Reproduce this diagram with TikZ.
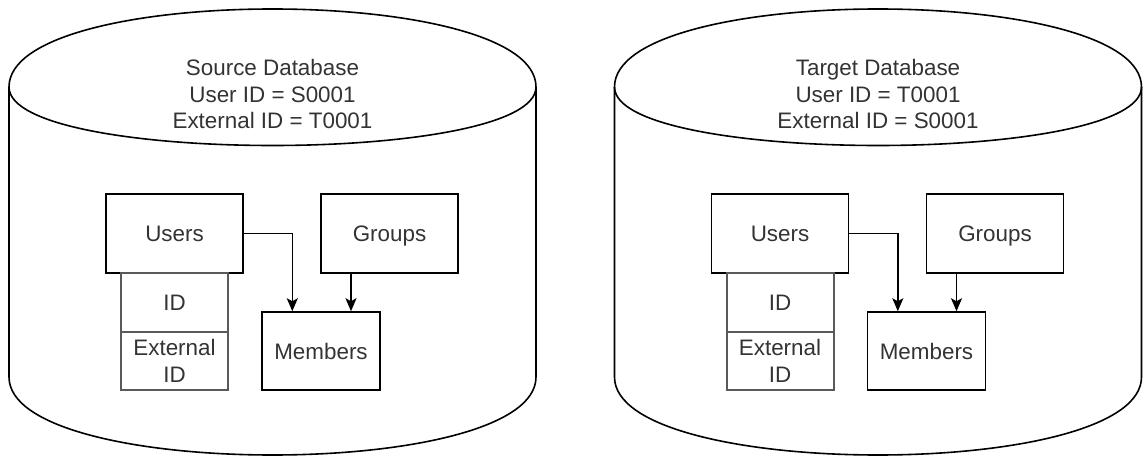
\documentclass[tikz,border=0pt]{standalone}
\usepackage{fontspec}
\setmainfont{Liberation Sans}
\usetikzlibrary{arrows.meta}
\definecolor{txt}{HTML}{333333}
\definecolor{idgray}{HTML}{5A5A5A}
\tikzset{
  dbshape/.style={draw=black, line width=1.6pt},
  box/.style={draw=black, line width=1.5pt, inner sep=0pt, text=txt,
    font=\fontsize{22.4}{26.9}\selectfont, align=center},
  one/.style={text depth=0pt},
  idbox/.style={box, draw=idgray, line width=2pt},
  title/.style={text=txt, font=\fontsize{22.4}{26.9}\selectfont, align=center, inner sep=0pt},
  arr/.style={draw=black, line width=1.5pt, -{Stealth[length=13pt,width=11pt,inset=3pt]}}
}
\begin{document}
\begin{tikzpicture}[x=1pt,y=-1pt]
\useasboundingbox (0,0) rectangle (1143,457);
% ---------- left database ----------
\draw[dbshape] (9,87) .. controls (9,-17) and (536,-17) .. (536,87)
  -- (536,377) .. controls (536,481) and (9,481) .. (9,377) -- cycle;
\draw[dbshape] (9,87) .. controls (9,165) and (536,165) .. (536,87);
\node[title] (titleL) at (272.5,94) {Source Database\\User ID = S0001\\External ID = T0001};
\node[box, one, minimum width=137pt, minimum height=79pt] (usersL) at (174.5,233.5) {Users};
\node[idbox, one, minimum width=107pt, minimum height=59pt] (idL) at (174.5,302.5) {ID};
\node[idbox, minimum width=107pt, minimum height=58pt] (extL) at (174.5,361) {External\\ID};
\node[box, one, minimum width=137pt, minimum height=79pt] (groupsL) at (389.5,233.5) {Groups};
\node[box, one, minimum width=118pt, minimum height=78pt] (membersL) at (321,351) {Members};
\draw[arr] (usersL.east) -| ([xshift=-28.7pt]membersL.north);
\draw[arr] ([xshift=-38.5pt]groupsL.south) -- ([xshift=30pt]membersL.north);
% ---------- right database ----------
\draw[dbshape] (614.5,87) .. controls (614.5,-17) and (1141.5,-17) .. (1141.5,87)
  -- (1141.5,377) .. controls (1141.5,481) and (614.5,481) .. (614.5,377) -- cycle;
\draw[dbshape] (614.5,87) .. controls (614.5,165) and (1141.5,165) .. (1141.5,87);
\node[title] (titleR) at (878,94) {Target Database\\User ID = T0001\\External ID = S0001};
\node[box, one, minimum width=137pt, minimum height=79pt] (usersR) at (780,233.5) {Users};
\node[idbox, one, minimum width=107pt, minimum height=59pt] (idR) at (780,302.5) {ID};
\node[idbox, minimum width=107pt, minimum height=58pt] (extR) at (780,361) {External\\ID};
\node[box, one, minimum width=137pt, minimum height=79pt] (groupsR) at (995,233.5) {Groups};
\node[box, one, minimum width=118pt, minimum height=78pt] (membersR) at (926.5,351) {Members};
\draw[arr] (usersR.east) -| ([xshift=-28.7pt]membersR.north);
\draw[arr] ([xshift=-38.5pt]groupsR.south) -- ([xshift=30pt]membersR.north);
\end{tikzpicture}
\end{document}
